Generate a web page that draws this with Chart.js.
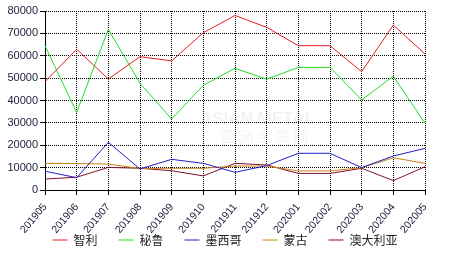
<!DOCTYPE html>
<html><head><meta charset="utf-8">
<script src="https://cdn.jsdelivr.net/npm/chart.js@4/dist/chart.umd.min.js"></script>
<style>html,body{margin:0;padding:0;background:#fff}</style></head>
<body>
<canvas id="c" width="466" height="272"></canvas>
<script>
const categories = ['201905','201906','201907','201908','201909','201910','201911','201912','202001','202002','202003','202004','202005'];
const chile     = [48400, 62900, 49600, 59600, 57700, 70300, 78000, 72700, 64500, 64500, 52900, 73700, 60800];
const peru      = [64500, 34600, 71800, 47700, 31700, 46800, 54400, 49500, 54800, 54800, 40200, 50900, 29800];
const mexico    = [8400, 5500, 21300, 9400, 13700, 11900, 7900, 10900, 16400, 16400, 10000, 15200, 18600];
const mongolia  = [11900, 11800, 11600, 9600, 9700, 9700, 10700, 10700, 8500, 8500, 10000, 14400, 11900];
const australia = [4900, 5700, 10100, 9700, 8600, 6300, 11900, 11200, 7400, 7400, 9700, 4200, 10400];
const seriesNames = ['智利','秘鲁','墨西哥','蒙古','澳大利亚'];
const yTicks = [0,10000,20000,30000,40000,50000,60000,70000,80000];

const colors = ['#e02020','#22dd22','#2020cc','#c88410','#801030'];
const seriesData = [chile, peru, mexico, mongolia, australia];

const watermark = {
  id:'watermark',
  beforeDatasetsDraw(chart){
    const c = chart.ctx;
    c.save();
    c.fillStyle = 'rgba(0,0,0,0.05)';
    c.font = 'bold 17px "Liberation Sans", Arial, sans-serif';
    c.textAlign = 'left'; c.textBaseline = 'middle';
    c.fillText('ASIAN METAL', 200, 119);
    c.font = '15px "Noto Sans CJK SC", sans-serif';
    c.fillText('亚 洲 金 属 网', 220, 136);
    c.restore();
  }
};

const legendShift = {
  id:'legendShift',
  afterLayout(chart){
    const lg = chart.legend;
    if (lg) { const d = lg.top - 213; lg.top -= d; lg.bottom -= d; }
  }
};

new Chart(document.getElementById('c'), {
  type: 'line',
  data: {
    labels: categories,
    datasets: seriesData.map((d,i)=>({
      label: seriesNames[i], data: d, borderColor: colors[i], backgroundColor: colors[i],
      borderWidth: 1, pointRadius: 0, tension: 0, fill: false
    }))
  },
  plugins: [watermark, legendShift],
  options: {
    responsive: false, animation: false,
    layout: { padding: { left: 0, right: 16, top: 11, bottom: 0 } },
    plugins: {
      tooltip: { enabled: false },
      legend: {
        position: 'bottom', maxHeight: 38,
        labels: {
          usePointStyle: true, pointStyle: 'line', pointStyleWidth: 15,
          padding: 21, color: '#222',
          font: { family: '"Noto Sans CJK SC", sans-serif', size: 12 }
        }
      }
    },
    scales: {
      x: {
        grid: { color: '#000', lineWidth: 1, tickLength: 5, tickColor: '#000', tickBorderDash: [] },
        border: { display: true, color: '#000', width: 1, dash: [1,1] },
        ticks: { color: '#1c1c3c', font: { family: '"Liberation Sans", Arial, sans-serif', size: 10.5 },
                 minRotation: 50, maxRotation: 50, padding: 6, autoSkip: false },
        afterFit(s){ s.height = 44; }
      },
      y: {
        min: 0, max: 80000,
        afterBuildTicks(s){ s.ticks = yTicks.map(v=>({value:v})); },
        grid: { color: '#000', lineWidth: 1, tickLength: 5, tickColor: '#000', tickBorderDash: [] },
        border: { display: true, color: '#000', width: 1, dash: [1,1] },
        ticks: { color: '#1c1c3c', font: { family: '"Liberation Sans", Arial, sans-serif', size: 11 }, padding: 2,
                 callback: v => String(v) },
        afterFit(s){ s.width = 45; }
      },
      y2: {
        position: 'right', display: true,
        grid: { drawOnChartArea: false, drawTicks: false },
        border: { display: false },
        ticks: { display: false },
        afterFit(s){ s.width = 25; }
      }
    }
  }
});
</script>
</body></html>
